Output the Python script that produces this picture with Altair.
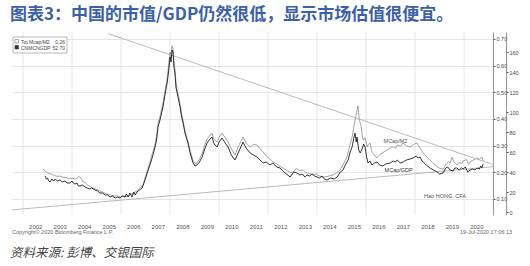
import altair as alt
import pandas as pd

# ---------------- data ----------------
title_text = "图表3：中国的市值/GDP仍然很低，显示市场估值很便宜。"
source_text = "资料来源: 彭博、交银国际"
copyright_text = "Copyright© 2020 Bloomberg Finance L.P."
stamp_text = "19-Jul-2020 17:06:13"

year_labels = list(range(2002, 2021))
grid_years = list(range(2002, 2021, 2))
m2_ticks = [0.1, 0.2, 0.3, 0.4, 0.5, 0.6, 0.7]
gdp_ticks = [0, 20, 40, 60, 80, 100, 120, 140, 160]

# CN market cap / GDP (%), right outer axis
gdp_year = [2002.90, 2002.95, 2003.00, 2003.05, 2003.10, 2003.18, 2003.25, 2003.31, 2003.40, 2003.51,
            2003.60, 2003.71, 2003.80, 2003.92, 2004.00, 2004.05, 2004.12, 2004.20, 2004.26, 2004.33,
            2004.42, 2004.53, 2004.62, 2004.73, 2004.80, 2004.94, 2005.05, 2005.14, 2005.25, 2005.35,
            2005.45, 2005.55, 2005.65, 2005.76, 2005.85, 2005.96, 2006.05, 2006.16, 2006.22, 2006.29,
            2006.36, 2006.45, 2006.52, 2006.58, 2006.65, 2006.75, 2006.86, 2006.92, 2006.98, 2007.08,
            2007.18, 2007.28, 2007.39, 2007.45, 2007.51, 2007.60, 2007.71, 2007.80, 2007.88, 2007.94,
            2008.00, 2008.04, 2008.08, 2008.12, 2008.16, 2008.20, 2008.24, 2008.29, 2008.35, 2008.41,
            2008.47, 2008.53, 2008.62, 2008.73, 2008.83, 2008.94, 2009.02, 2009.10, 2009.20, 2009.31,
            2009.40, 2009.51, 2009.60, 2009.71, 2009.80, 2009.92, 2010.00, 2010.12, 2010.25, 2010.37,
            2010.50, 2010.65, 2010.80, 2010.98, 2011.10, 2011.27, 2011.40, 2011.55, 2011.67, 2011.80,
            2011.92, 2012.08, 2012.20, 2012.35, 2012.49, 2012.60, 2012.75, 2012.90, 2013.05, 2013.18,
            2013.30, 2013.40, 2013.50, 2013.59, 2013.70, 2013.80, 2013.90, 2014.00, 2014.10, 2014.20,
            2014.30, 2014.41, 2014.55, 2014.70, 2014.82, 2014.95, 2015.06, 2015.15, 2015.27, 2015.35,
            2015.43, 2015.50, 2015.55, 2015.60, 2015.63, 2015.70, 2015.76, 2015.84, 2015.90, 2015.96,
            2016.02, 2016.08, 2016.16, 2016.24, 2016.35, 2016.45, 2016.55, 2016.69, 2016.80, 2016.98,
            2017.10, 2017.20, 2017.27, 2017.40, 2017.51, 2017.65, 2017.80, 2017.92, 2018.05, 2018.12,
            2018.20, 2018.28, 2018.33, 2018.45, 2018.61, 2018.75, 2018.90, 2019.00, 2019.14, 2019.25,
            2019.33, 2019.43, 2019.55, 2019.62, 2019.71, 2019.80, 2019.90, 2019.96, 2020.05, 2020.15,
            2020.24, 2020.35, 2020.45, 2020.53, 2020.62, 2020.68, 2020.72, 2020.78]
gdp_val = [36, 33, 34, 31, 30, 33, 31, 33, 31, 32,
           30, 31, 29, 29, 31, 29, 28, 29, 26, 26,
           27, 25, 24, 23, 24, 22, 21, 19, 19, 17,
           17, 15, 16, 14, 15, 14, 16, 15, 18, 15,
           19, 15, 20, 17, 20, 22, 24, 28, 32, 40,
           47, 55, 65, 72, 85, 93, 105, 118, 129, 140,
           155, 150, 162, 160, 145, 139, 125, 119, 112, 105,
           95, 89, 78, 69, 58, 49, 46, 47, 50, 55,
           62, 69, 72, 75, 68, 65, 70, 74, 69, 65,
           57, 52, 60, 70, 64, 59, 57, 55, 52, 49,
           50, 47, 49, 45, 44, 41, 38, 35, 40, 39,
           37, 38, 35, 37, 36, 38, 36, 35, 34, 36,
           33, 32, 34, 33, 35, 40, 42, 47, 52, 60,
           65, 74, 79, 70, 75, 62, 59, 63, 68, 65,
           55, 49, 51, 47, 49, 50, 47, 46, 48, 49,
           51, 50, 52, 49, 50, 52, 53, 54, 56, 54,
           55, 51, 50, 47, 44, 42, 40, 38, 39, 44,
           45, 42, 41, 44, 44, 42, 44, 43, 45, 40,
           42, 43, 42, 44, 43, 46, 44, 48]

# Total market cap / M2, right inner axis
m2_year = [2002.82, 2002.90, 2003.00, 2003.10, 2003.22, 2003.30, 2003.40, 2003.50, 2003.63, 2003.75,
           2003.88, 2004.00, 2004.12, 2004.20, 2004.27, 2004.33, 2004.40, 2004.45, 2004.55, 2004.66,
           2004.76, 2004.86, 2005.00, 2005.14, 2005.28, 2005.43, 2005.60, 2005.76, 2005.86, 2005.96,
           2006.10, 2006.20, 2006.29, 2006.40, 2006.50, 2006.58, 2006.65, 2006.75, 2006.86, 2006.92,
           2006.98, 2007.08, 2007.18, 2007.28, 2007.39, 2007.45, 2007.51, 2007.60, 2007.71, 2007.80,
           2007.88, 2007.94, 2008.00, 2008.04, 2008.08, 2008.12, 2008.16, 2008.20, 2008.24, 2008.29,
           2008.35, 2008.41, 2008.47, 2008.53, 2008.62, 2008.73, 2008.83, 2008.94, 2009.02, 2009.10,
           2009.20, 2009.31, 2009.40, 2009.51, 2009.60, 2009.71, 2009.80, 2009.92, 2010.00, 2010.12,
           2010.25, 2010.37, 2010.50, 2010.65, 2010.80, 2010.98, 2011.10, 2011.27, 2011.40, 2011.55,
           2011.67, 2011.80, 2011.92, 2012.08, 2012.20, 2012.35, 2012.49, 2012.61, 2012.75, 2012.90,
           2013.02, 2013.15, 2013.30, 2013.43, 2013.55, 2013.70, 2013.84, 2013.95, 2014.10, 2014.24,
           2014.40, 2014.55, 2014.65, 2014.80, 2014.94, 2015.08, 2015.22, 2015.32, 2015.43, 2015.50,
           2015.55, 2015.62, 2015.67, 2015.72, 2015.80, 2015.84, 2015.88, 2015.96, 2016.04, 2016.10,
           2016.16, 2016.24, 2016.35, 2016.45, 2016.55, 2016.65, 2016.80, 2016.98, 2017.10, 2017.20,
           2017.27, 2017.40, 2017.51, 2017.65, 2017.80, 2017.95, 2018.08, 2018.14, 2018.20, 2018.35,
           2018.49, 2018.60, 2018.73, 2018.90, 2019.00, 2019.14, 2019.25, 2019.35, 2019.43, 2019.51,
           2019.58, 2019.71, 2019.80, 2019.90, 2019.96, 2020.10, 2020.18, 2020.24, 2020.35, 2020.45,
           2020.53, 2020.62, 2020.73, 2020.78]
m2_val = [0.212, 0.205, 0.198, 0.195, 0.190, 0.187, 0.185, 0.186, 0.182, 0.180,
          0.177, 0.178, 0.175, 0.178, 0.184, 0.182, 0.172, 0.164, 0.160, 0.150,
          0.146, 0.141, 0.136, 0.130, 0.124, 0.119, 0.114, 0.111, 0.112, 0.108,
          0.112, 0.109, 0.111, 0.118, 0.121, 0.127, 0.130, 0.138, 0.149, 0.160,
          0.179, 0.208, 0.239, 0.272, 0.306, 0.335, 0.381, 0.414, 0.460, 0.508,
          0.550, 0.600, 0.651, 0.630, 0.674, 0.666, 0.615, 0.584, 0.540, 0.509,
          0.485, 0.456, 0.420, 0.396, 0.350, 0.317, 0.278, 0.242, 0.232, 0.235,
          0.250, 0.269, 0.298, 0.325, 0.335, 0.347, 0.322, 0.314, 0.332, 0.347,
          0.330, 0.314, 0.288, 0.265, 0.300, 0.332, 0.310, 0.295, 0.305, 0.302,
          0.290, 0.276, 0.262, 0.250, 0.239, 0.232, 0.222, 0.216, 0.208, 0.200,
          0.201, 0.214, 0.206, 0.209, 0.198, 0.196, 0.190, 0.194, 0.186, 0.182,
          0.184, 0.188, 0.190, 0.198, 0.209, 0.232, 0.257, 0.295, 0.332, 0.370,
          0.396, 0.425, 0.449, 0.400, 0.370, 0.340, 0.321, 0.330, 0.295, 0.305,
          0.310, 0.276, 0.262, 0.254, 0.266, 0.272, 0.280, 0.291, 0.296, 0.290,
          0.302, 0.298, 0.310, 0.300, 0.295, 0.305, 0.310, 0.300, 0.291, 0.270,
          0.257, 0.246, 0.235, 0.222, 0.215, 0.212, 0.228, 0.240, 0.235, 0.257,
          0.240, 0.227, 0.238, 0.232, 0.242, 0.248, 0.230, 0.239, 0.245, 0.250,
          0.254, 0.249, 0.257, 0.242]

# trend lines (in M2 axis units)
trend_id = ["upper", "upper", "lower", "lower"]
trend_year = [2005.47, 2021.18, 2001.55, 2021.18]
trend_val = [0.720, 0.229, 0.059, 0.221]

# annotations
note_text = ["MCap/M2", "Hao HONG, CFA"]
note_year = [2017.20, 2019.22]
note_m2 = [0.317, 0.111]
gdp_note_text = ["MCap/GDP"]
gdp_note_year = [2017.33]
gdp_note_val = [42]

legend_names = ["Tot Mcap/M2", "CNMCNGDP"]
legend_values = ["0.26", "52.70"]

# ---------------- chart ----------------
X_DOMAIN = [2001.55, 2021.18]
M2_DOMAIN = [0.04, 0.726]
GDP_DOMAIN = [-3, 180]
FONT = "Liberation Sans"
CJK = "Noto Sans CJK SC"

xs = alt.Scale(domain=X_DOMAIN, nice=False, zero=False)
m2s = alt.Scale(domain=M2_DOMAIN, nice=False, zero=False)
gdps = alt.Scale(domain=GDP_DOMAIN, nice=False, zero=False)

x_axis = alt.Axis(values=[y + 0.5 for y in year_labels], labelExpr="floor(datum.value)",
                  grid=False, ticks=False, domain=False, title=None,
                  labelFontSize=6, labelColor="#555", labelFont=FONT, labelPadding=8)

def X():
    return alt.X("year:Q", scale=xs, axis=x_axis)

gdp_df = pd.DataFrame({"year": gdp_year, "v": gdp_val})
m2_df = pd.DataFrame({"year": m2_year, "v": m2_val})
trend_df = pd.DataFrame({"id": trend_id, "year": trend_year, "v": trend_val})
grid_df = pd.DataFrame({"year": grid_years})

vgrid = alt.Chart(grid_df).mark_rule(color="#e0e0e0", strokeWidth=0.8).encode(x=X())

m2_line = alt.Chart(m2_df).mark_line(color="#8c8c8c", strokeWidth=0.8).encode(
    x=X(),
    y=alt.Y("v:Q", scale=m2s,
            axis=alt.Axis(orient="right", values=m2_ticks, format=".2f", grid=True,
                          gridColor="#e0e0e0", gridWidth=0.8, domain=True, domainColor="#777",
                          domainWidth=0.8, ticks=True, tickSize=2, tickColor="#555",
                          labelFontSize=5.5, labelColor="#444", labelFont=FONT, labelPadding=1,
                          title=None)),
)

trend = alt.Chart(trend_df).mark_line(color="#a8a8a8", strokeWidth=0.8, clip=True).encode(
    x=X(),
    y=alt.Y("v:Q", scale=m2s, axis=None),
    detail="id:N",
)

gdp_line = alt.Chart(gdp_df).mark_line(color="#1e1e1e", strokeWidth=0.9).encode(
    x=X(),
    y=alt.Y("v:Q", scale=gdps,
            axis=alt.Axis(orient="right", offset=13, values=gdp_ticks, format="d", grid=False,
                          domain=True, domainColor="#777", domainWidth=0.8, ticks=True,
                          tickSize=2, tickColor="#555", labelFontSize=5.5, labelColor="#444",
                          labelFont=FONT, labelPadding=1, title=None)),
)

notes = alt.Chart(pd.DataFrame({"t": note_text, "year": note_year, "v": note_m2})).mark_text(
    fontSize=5.5, color="#555", font=FONT
).encode(x=X(), y=alt.Y("v:Q", scale=m2s, axis=None), text="t:N")

gdp_notes = alt.Chart(pd.DataFrame({"t": gdp_note_text, "year": gdp_note_year, "v": gdp_note_val})).mark_text(
    fontSize=5.5, color="#333", font=FONT
).encode(x=X(), y=alt.Y("v:Q", scale=gdps, axis=None), text="t:N")

def label(text, x, y, **kw):
    return alt.Chart(pd.DataFrame({"t": [text]})).mark_text(**kw).encode(
        x=alt.value(x), y=alt.value(y), text="t:N")

title = label(title_text, -2, -17, fontSize=17, fontWeight="bold", color="#3a5fae",
              font=CJK, align="left", baseline="middle")
source = label(source_text, -2, 221, fontSize=12.5, fontStyle="italic", color="#444",
               font=CJK, align="left", baseline="middle")
copy_t = label(copyright_text, 0, 200, fontSize=5.5, color="#666", font=FONT,
               align="left", baseline="middle")
stamp_t = label(stamp_text, 500, 200, fontSize=5.5, color="#666", font=FONT,
                align="right", baseline="middle")

legend_box = alt.Chart(pd.DataFrame({"a": [1]})).mark_rect(
    fill="white", stroke="#999", strokeWidth=0.7
).encode(x=alt.value(1), x2=alt.value(55), y=alt.value(5), y2=alt.value(21))
sq1 = alt.Chart(pd.DataFrame({"a": [1]})).mark_rect(
    fill="white", stroke="#777", strokeWidth=0.6
).encode(x=alt.value(3), x2=alt.value(6.5), y=alt.value(7.5), y2=alt.value(11))
sq2 = alt.Chart(pd.DataFrame({"a": [1]})).mark_rect(
    fill="#333", stroke="#333", strokeWidth=0.6
).encode(x=alt.value(3), x2=alt.value(6.5), y=alt.value(13.5), y2=alt.value(17))
lg1 = label(legend_names[0], 9, 9.5, fontSize=5, color="#444", font=FONT, align="left", baseline="middle")
lg2 = label(legend_names[1], 9, 15.5, fontSize=5, color="#444", font=FONT, align="left", baseline="middle")
lv1 = label(legend_values[0], 53, 9.5, fontSize=5, color="#444", font=FONT, align="right", baseline="middle")
lv2 = label(legend_values[1], 53, 15.5, fontSize=5, color="#444", font=FONT, align="right", baseline="middle")

chart = alt.layer(
    vgrid, m2_line, trend, gdp_line, notes, gdp_notes,
    title, source, copy_t, stamp_t,
    legend_box, sq1, sq2, lg1, lg2, lv1, lv2,
).resolve_scale(y="independent").properties(
    width=481, height=183,
    padding={"left": 12, "top": 32, "right": 37, "bottom": 51},
    autosize=alt.AutoSizeParams(type="none"),
    background="white",
).configure_view(stroke=None)

chart.save("out.html", embed_options={"renderer": "svg", "actions": False})
